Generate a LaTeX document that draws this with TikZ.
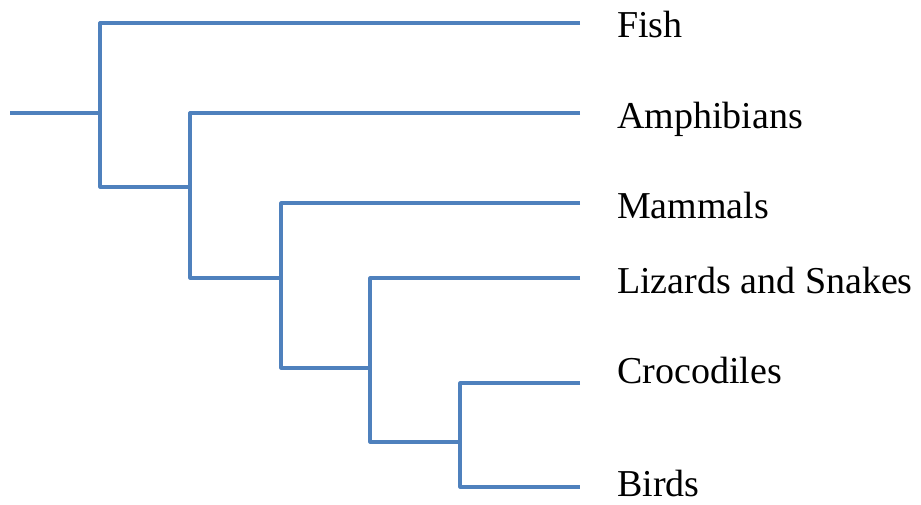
\documentclass[tikz,border=0pt]{standalone}
\usepackage{fontspec}
\setmainfont{Liberation Serif}
\begin{document}
\begin{tikzpicture}[x=1pt,y=-1pt,
  branch/.style={draw=treeblue,line width=3.2pt,line join=round},
  leaf/.style={anchor=base west,inner sep=0pt,font=\fontsize{38}{41}\selectfont}]
\definecolor{treeblue}{RGB}{79,129,189}
\useasboundingbox (0,0) rectangle (921,504);
% tree coordinates
\coordinate (r) at (10,113);
\coordinate (a) at (100,113);
\coordinate (aT) at (100,23);
\coordinate (aB) at (100,187);
\coordinate (bM) at (190,187);
\coordinate (bT) at (190,113);
\coordinate (bB) at (190,278);
\coordinate (cM) at (281,278);
\coordinate (cT) at (281,203);
\coordinate (cB) at (281,368);
\coordinate (dM) at (370,368);
\coordinate (dT) at (370,278);
\coordinate (dB) at (370,442);
\coordinate (eM) at (460,442);
\coordinate (eT) at (460,383);
\coordinate (eB) at (460,487);
\coordinate (lf) at (580,23);
\coordinate (la) at (580,113);
\coordinate (lm) at (580,203);
\coordinate (ll) at (580,278);
\coordinate (lc) at (580,383);
\coordinate (lb) at (580,487);
% branches
\draw[branch] (r) -- (a);
\draw[branch] (lf) -- (aT) -- (aB) -- (bM);
\draw[branch] (la) -- (bT) -- (bB) -- (cM);
\draw[branch] (lm) -- (cT) -- (cB) -- (dM);
\draw[branch] (ll) -- (dT) -- (dB) -- (eM);
\draw[branch] (lc) -- (eT) -- (eB) -- (lb);
% labels
\node[leaf] (fish) at (617,37) {Fish};
\node[leaf] (amph) at (617,128) {Amphibians};
\node[leaf] (mamm) at (617,218) {Mammals};
\node[leaf] (liz) at (617,293) {Lizards and Snakes};
\node[leaf] (croc) at (617,383) {Crocodiles};
\node[leaf] (bird) at (617,496) {Birds};
\end{tikzpicture}
\end{document}
